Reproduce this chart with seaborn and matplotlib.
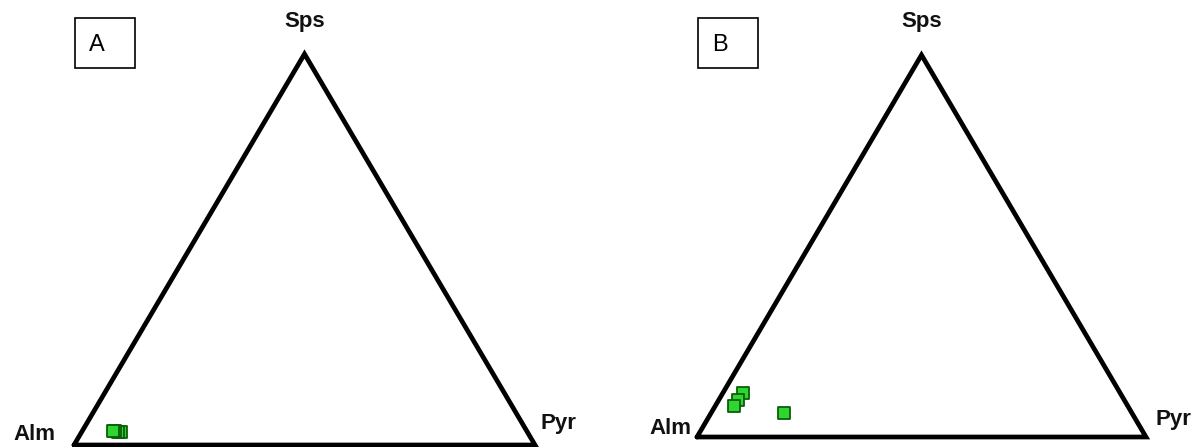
import matplotlib
matplotlib.use("Agg")
import matplotlib.pyplot as plt
from matplotlib.patches import Rectangle
import numpy as np
import pandas as pd
import seaborn as sns

sns.set_theme(style="white")
plt.rcParams['font.family'] = ['Liberation Sans', 'DejaVu Sans']

# Garnet end-member fractions (Alm, Pyr, Sps), panel A
alm_a = [0.882, 0.888, 0.893, 0.898]
pyr_a = [0.086, 0.079, 0.072, 0.066]
sps_a = [0.032, 0.033, 0.035, 0.036]

# Panel B
alm_b = [0.840, 0.860, 0.877, 0.774]
pyr_b = [0.045, 0.043, 0.042, 0.163]
sps_b = [0.115, 0.097, 0.081, 0.063]

corner_labels = ["Alm", "Pyr", "Sps"]
panel_labels = ["A", "B"]

W, H = 1195, 447
fig = plt.figure(figsize=(W / 100, H / 100), dpi=100)


def to_xy(alm, pyr, sps):
    alm, pyr, sps = map(np.asarray, (alm, pyr, sps))
    tot = alm + pyr + sps
    return (pyr + sps / 2) / tot, sps / tot


def px_rect(x0, y0, x1, y1):
    return [x0 / W, 1 - y1 / H, (x1 - x0) / W, (y1 - y0) / H]


def panel(rect, alm, pyr, sps, label, box, lbl_pos):
    ax = fig.add_axes(px_rect(*rect))
    ax.set_xlim(0, 1)
    ax.set_ylim(0, 1)
    ax.axis("off")
    ax.plot([0, 1, 0.5, 0], [0, 0, 1, 0], color="black", lw=3.4,
            solid_joinstyle="miter", clip_on=False)
    x, y = to_xy(alm, pyr, sps)
    df = pd.DataFrame({"x": x, "y": y})
    sns.scatterplot(data=df, x="x", y="y", ax=ax, marker="s", s=70,
                    color="#2fd62f", edgecolor="#0b5e0b", linewidth=1.3,
                    clip_on=False, zorder=3)
    ax.set_xlabel("")
    ax.set_ylabel("")
    for name, (px, py) in zip(corner_labels, lbl_pos):
        fig.text(px / W, 1 - py / H, name, ha="center", va="center",
                 fontsize=16, fontweight="bold", color="#111111")
    bx0, by0, bx1, by1 = box
    fig.patches.append(Rectangle((bx0 / W, 1 - by1 / H), (bx1 - bx0) / W,
                                 (by1 - by0) / H, transform=fig.transFigure,
                                 fill=False, edgecolor="black", lw=1.2))
    fig.text((bx0 + 22) / W, 1 - (by0 + 27) / H, label, ha="center",
             va="center", fontsize=17, color="black")


panel((74, 54, 535, 445), alm_a, pyr_a, sps_a, panel_labels[0],
      (75, 18, 135, 68), [(34, 435), (558, 423), (305, 22)])
panel((697, 55, 1146, 437), alm_b, pyr_b, sps_b, panel_labels[1],
      (698, 18, 758, 68), [(670, 429), (1173, 419), (922, 22)])

fig.savefig("out.png", dpi=100, facecolor="white")
